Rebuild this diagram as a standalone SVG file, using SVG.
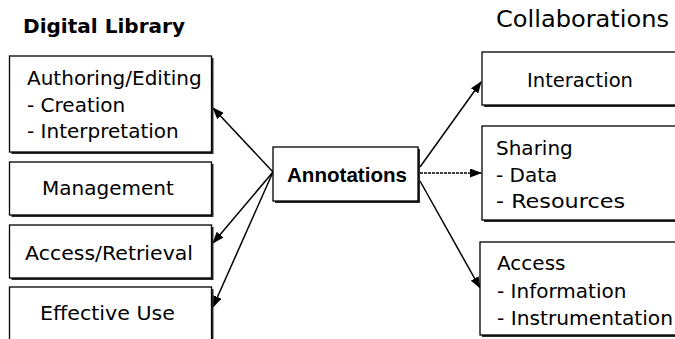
<svg xmlns="http://www.w3.org/2000/svg" width="675" height="339" viewBox="0 0 675 339">
<style>
.bg{fill:#fff}
.shadow{fill:#2a2a2a}
.box{fill:#fff;stroke:#000;stroke-width:1.3}
.t{font-family:"DejaVu Sans",sans-serif;font-size:20px;fill:#000}
.title{font-family:"DejaVu Sans",sans-serif;font-weight:bold;font-size:20px;fill:#000}
.title2{font-family:"DejaVu Sans",sans-serif;font-size:23px;fill:#000}
.bold{font-family:"Liberation Sans",Arial,sans-serif;font-weight:bold;font-size:20.5px;fill:#000}
.conn{stroke:#000;stroke-width:1.5;fill:none;marker-end:url(#arrow)}
</style>
<defs>
<marker id="arrow" markerWidth="12" markerHeight="9" refX="11" refY="4.5" orient="auto" markerUnits="userSpaceOnUse">
<path d="M0,0 L12,4.5 L0,9 z" fill="#000"/>
</marker>
</defs>
<rect class="bg" x="0" y="0" width="675" height="339"/>

<text class="title" x="23" y="33" textLength="162" lengthAdjust="spacingAndGlyphs">Digital Library</text>
<text class="title2" x="496" y="27" textLength="173" lengthAdjust="spacingAndGlyphs">Collaborations</text>

<g id="connectors">
<line class="conn" x1="273" y1="172" x2="213" y2="108"/>
<line class="conn" x1="273" y1="172" x2="213" y2="243"/>
<line class="conn" x1="273" y1="172" x2="213" y2="307"/>
<line class="conn" x1="420" y1="167" x2="481" y2="82"/>
<line class="conn" x1="420" y1="173" x2="481" y2="173" stroke-dasharray="3 1"/>
<line class="conn" x1="420" y1="181" x2="480" y2="288"/>
</g>

<g id="authoring">
<rect class="shadow" x="11.5" y="58" width="202" height="96"/>
<rect class="box" x="9.5" y="56" width="202" height="96"/>
<text class="t" x="27" y="85">Authoring/Editing</text>
<text class="t" x="27" y="112">- Creation</text>
<text class="t" x="27" y="138">- Interpretation</text>
</g>

<g id="management">
<rect class="shadow" x="11.5" y="164" width="202" height="53"/>
<rect class="box" x="9.5" y="162" width="202" height="53"/>
<text class="t" x="42" y="195">Management</text>
</g>

<g id="access-retrieval">
<rect class="shadow" x="11.5" y="227" width="202" height="53"/>
<rect class="box" x="9.5" y="225" width="202" height="53"/>
<text class="t" x="25" y="260" textLength="168" lengthAdjust="spacingAndGlyphs">Access/Retrieval</text>
</g>

<g id="effective-use">
<rect class="shadow" x="11.5" y="289" width="202" height="62"/>
<rect class="box" x="9.5" y="287" width="202" height="62"/>
<text class="t" x="40" y="320" textLength="135" lengthAdjust="spacingAndGlyphs">Effective Use</text>
</g>

<g id="annotations">
<rect class="shadow" x="275" y="149" width="145" height="54"/>
<rect class="box" x="273" y="147" width="145" height="54"/>
<text class="bold" x="287" y="182" textLength="120" lengthAdjust="spacingAndGlyphs">Annotations</text>
</g>

<g id="interaction">
<rect class="shadow" x="484" y="54" width="200" height="53"/>
<rect class="box" x="482" y="52" width="200" height="53"/>
<text class="t" x="527" y="87" textLength="106" lengthAdjust="spacingAndGlyphs">Interaction</text>
</g>

<g id="sharing">
<rect class="shadow" x="484" y="128" width="200" height="94"/>
<rect class="box" x="482" y="126" width="200" height="94"/>
<text class="t" x="496" y="155">Sharing</text>
<text class="t" x="496" y="182">- Data</text>
<text class="t" x="496" y="208" textLength="129" lengthAdjust="spacingAndGlyphs">- Resources</text>
</g>

<g id="access">
<rect class="shadow" x="482" y="244" width="200" height="93"/>
<rect class="box" x="480" y="242" width="200" height="93"/>
<text class="t" x="497" y="270">Access</text>
<text class="t" x="497" y="298">- Information</text>
<text class="t" x="497" y="325" textLength="176" lengthAdjust="spacingAndGlyphs">- Instrumentation</text>
</g>
</svg>
